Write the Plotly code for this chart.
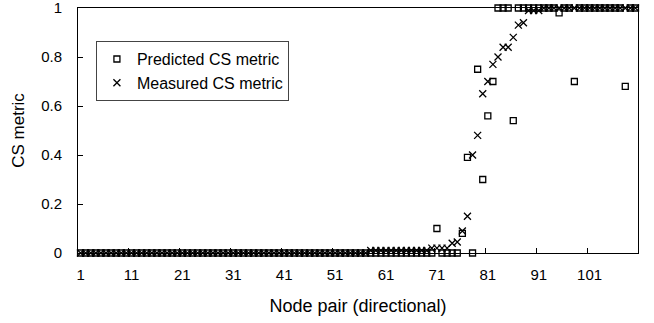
import plotly.graph_objects as go

node_pairs = list(range(1, 111))

# Predicted CS metric (squares)
predicted = ([0.0] * 70 +            # 1..70
             [0.10] +                # 71
             [0.0] * 4 +             # 72..75
             [0.08, 0.39, 0.0, 0.75, 0.30, 0.56, 0.70] +  # 76..82
             [1.0] * 3 +             # 83..85
             [0.54] +                # 86
             [1.0] * 8 +             # 87..94
             [0.98] +                # 95
             [1.0] * 2 +             # 96..97
             [0.70] +                # 98
             [1.0] * 9 +             # 99..107
             [0.68] +                # 108
             [1.0] * 2)              # 109..110

# Measured CS metric (crosses)
measured = ([0.0] * 57 +             # 1..57
            [0.01] * 12 +            # 58..69
            [0.02] * 4 +             # 70..73
            [0.04, 0.045, 0.09, 0.15, 0.40, 0.48, 0.65, 0.70, 0.77, 0.80,
             0.84, 0.84, 0.88, 0.93, 0.94, 0.99, 0.99, 0.99] +  # 74..91
            [1.0] * 19)              # 92..110

x_tick_labels = [str(v) for v in range(1, 102, 10)]
y_ticks = [0, 0.2, 0.4, 0.6, 0.8, 1]

font_family = "Liberation Sans, Arial, Helvetica, sans-serif"

fig = go.Figure()
fig.add_trace(go.Scatter(
    x=node_pairs, y=predicted, mode="markers", name="Predicted CS metric",
    marker=dict(symbol="square-open", size=6, color="black", line=dict(width=1.3, color="black")),
    cliponaxis=False,
))
fig.add_trace(go.Scatter(
    x=node_pairs, y=measured, mode="markers", name="Measured CS metric",
    marker=dict(symbol="x-thin", size=7, color="black", line=dict(width=1.3, color="black")),
    cliponaxis=False,
))
# invisible trace to carry the boundary tick marks axis
fig.add_trace(go.Scatter(x=[node_pairs[0]], y=[predicted[0]], xaxis="x2", mode="markers",
                         marker=dict(opacity=0), showlegend=False, hoverinfo="skip"))

n = len(node_pairs)
fig.update_layout(
    width=654, height=323,
    margin=dict(l=78, r=16, t=8, b=70),
    paper_bgcolor="white", plot_bgcolor="white",
    font=dict(family=font_family, size=15, color="black"),
    showlegend=True,
    legend=dict(
        x=0.032, y=0.865, xanchor="left", yanchor="top",
        bgcolor="white", bordercolor="#444", borderwidth=1,
        font=dict(size=16), tracegroupgap=0, itemwidth=30,
    ),
    xaxis=dict(
        range=[0.5, n + 0.5],
        tickmode="array", tickvals=[int(t) for t in x_tick_labels], ticktext=x_tick_labels,
        ticks="", showgrid=False, zeroline=False,
        showline=True, linecolor="black", linewidth=1, mirror=True,
        title=dict(text="Node pair (directional)", font=dict(size=18), standoff=17),
        ticklabelstandoff=8, automargin=False,
    ),
    xaxis2=dict(
        overlaying="x", matches="x", range=[0.5, n + 0.5],
        tickmode="array", tickvals=[int(t) - 0.5 for t in x_tick_labels[1:]],
        ticks="inside", ticklen=5, tickcolor="black", showticklabels=False,
        showgrid=False, zeroline=False, showline=False, side="bottom",
    ),
    yaxis=dict(
        range=[0, 1], tickmode="array", tickvals=y_ticks,
        ticktext=["0", "0.2", "0.4", "0.6", "0.8", "1"],
        ticks="inside", ticklen=5, tickcolor="black",
        showgrid=False, zeroline=False,
        showline=True, linecolor="black", linewidth=1, mirror=True,
        title=dict(text="CS metric", font=dict(size=17), standoff=12),
        ticklabelstandoff=12, ticklabeloverflow="allow", automargin=False,
    ),
)

fig.write_html("out.html")
